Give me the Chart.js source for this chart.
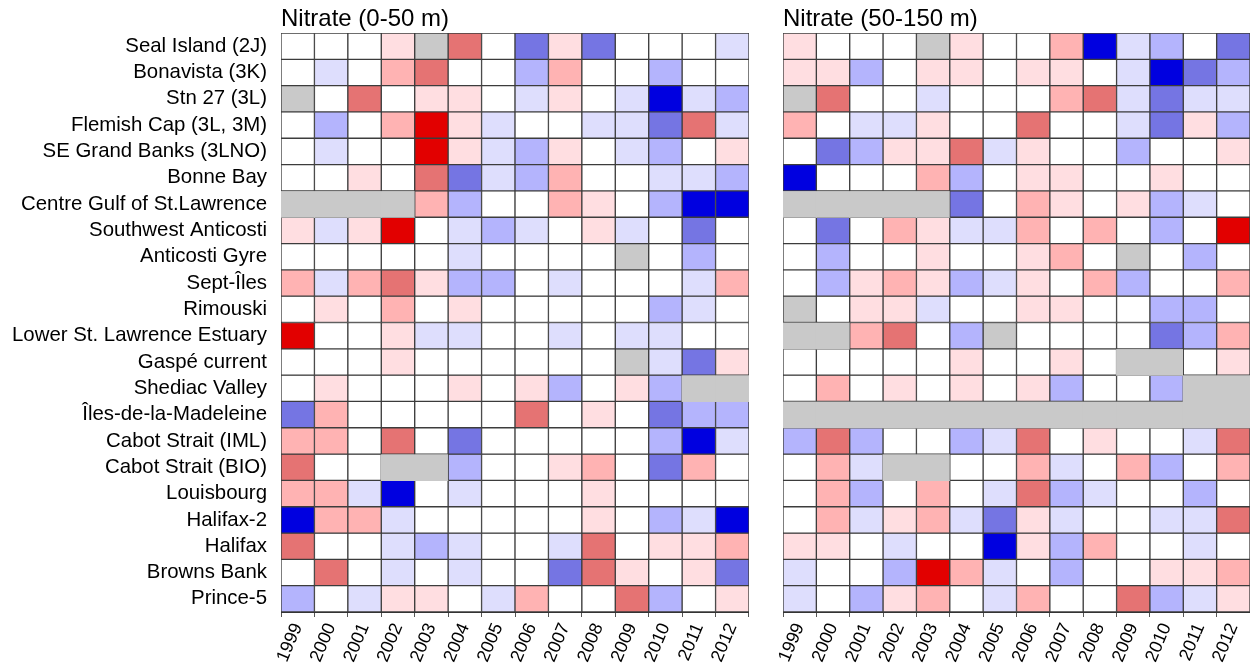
<!DOCTYPE html>
<html><head><meta charset="utf-8">
<script src="https://cdn.jsdelivr.net/npm/chart.js@4.4.1/dist/chart.umd.min.js"></script>
<style>
html,body{margin:0;padding:0;background:#fff;width:1250px;height:668px;overflow:hidden}
.box{position:absolute;top:0}
</style></head><body>
<div class="box" style="left:0;width:749px;height:668px"><canvas id="c1" width="749" height="668"></canvas></div>
<div class="box" style="left:760px;width:490px;height:668px"><canvas id="c2" width="490" height="668"></canvas></div>
<script>
const years = ['1999','2000','2001','2002','2003','2004','2005','2006','2007','2008','2009','2010','2011','2012'];
const stations = ['Seal Island (2J)','Bonavista (3K)','Stn 27 (3L)','Flemish Cap (3L, 3M)','SE Grand Banks (3LNO)','Bonne Bay','Centre Gulf of St.Lawrence','Southwest Anticosti','Anticosti Gyre','Sept-Îles','Rimouski','Lower St. Lawrence Estuary','Gaspé current','Shediac Valley','Îles-de-la-Madeleine','Cabot Strait (IML)','Cabot Strait (BIO)','Louisbourg','Halifax-2','Halifax','Browns Bank','Prince-5'];
const titles = ['Nitrate (0-50 m)','Nitrate (50-150 m)'];
const _ = null; // missing value (grey)
// anomaly class per station (rows) and year (columns): -4 .. +4
const nitrate0to50 = [
  [0,0,0,1,_,3,0,-3,1,-3,0,0,0,-1],
  [0,-1,0,2,3,0,0,-2,2,0,0,-2,0,0],
  [_,0,3,0,1,1,0,-1,1,0,-1,-4,-1,-2],
  [0,-2,0,2,4,1,-1,0,0,-1,-1,-3,3,-1],
  [0,-1,0,0,4,1,-1,-2,1,0,-1,-2,0,1],
  [0,0,1,0,3,-3,-1,-2,2,0,0,-1,-1,-2],
  [_,_,_,_,2,-2,0,0,2,1,0,-2,-4,-4],
  [1,-1,1,4,0,-1,-2,-1,0,1,-1,0,-3,0],
  [0,0,0,0,0,-1,0,0,0,0,_,0,-2,0],
  [2,-1,2,3,1,-2,-2,0,-1,0,0,0,-1,2],
  [0,1,0,2,0,1,0,0,0,0,0,-2,-1,0],
  [4,0,0,1,-1,-1,0,0,-1,0,-1,-1,0,0],
  [0,0,0,1,0,0,0,0,0,0,_,-1,-3,1],
  [0,1,0,0,0,1,0,1,-2,0,1,-2,_,_],
  [-3,2,0,0,0,0,0,3,0,1,0,-3,-2,-2],
  [2,2,0,3,0,-3,0,0,0,0,0,-2,-4,-1],
  [3,0,0,_,_,-2,0,0,1,2,0,-3,2,0],
  [2,2,-1,-4,0,-1,0,0,0,1,0,0,0,0],
  [-4,2,2,-1,0,0,0,0,0,1,0,-2,-1,-4],
  [3,0,0,-1,-2,-1,0,0,-1,3,0,1,1,2],
  [0,3,0,-1,0,-1,0,0,-3,3,1,0,1,-3],
  [-2,0,-1,1,1,0,-1,2,0,0,3,-2,0,1]
];
const nitrate50to150 = [
  [1,0,0,0,_,1,0,0,2,-4,-1,-2,0,-3],
  [1,1,-2,0,1,1,0,1,1,0,-1,-4,-3,-2],
  [_,3,0,0,-1,0,0,0,2,3,-1,-3,-1,-1],
  [2,0,-1,-1,1,0,0,3,0,0,-1,-3,1,-2],
  [0,-3,-2,1,1,3,-1,1,0,0,-2,0,0,1],
  [-4,0,0,0,2,-2,0,1,1,0,0,1,0,0],
  [_,_,_,_,_,-3,0,2,1,0,1,-2,-1,0],
  [0,-3,0,2,1,-1,-1,2,0,2,0,-2,0,4],
  [0,-2,0,0,1,0,0,1,2,0,_,0,-2,0],
  [0,-2,1,2,1,-2,-1,1,0,2,-2,0,0,2],
  [_,0,1,1,-1,0,0,1,1,0,0,-2,-2,0],
  [_,_,2,3,0,-2,_,0,0,0,0,-3,-2,2],
  [0,0,0,0,0,1,0,0,1,0,_,_,0,1],
  [0,2,0,1,0,1,0,1,-2,0,0,-2,_,_],
  [_,_,_,_,_,_,_,_,_,_,_,_,_,_],
  [-2,3,-2,0,0,-2,-1,3,0,1,0,0,-1,3],
  [0,2,-1,_,_,0,0,2,-1,0,2,-2,0,2],
  [0,2,-2,0,2,0,-1,3,-2,-1,0,0,-2,0],
  [0,2,-1,1,2,-1,-3,1,-1,0,0,-1,-1,3],
  [1,1,0,-1,0,0,-4,1,-2,2,0,0,-1,0],
  [-1,0,0,-2,4,2,-1,0,-2,0,0,1,1,2],
  [-1,0,-2,1,2,0,-1,2,0,0,3,-2,-1,1]
];
const classColors = {'-4':'#0000e0','-3':'#7575e3','-2':'#b4b4fd','-1':'#dedefd','0':'#ffffff','1':'#ffdee1','2':'#ffb3b3','3':'#e57373','4':'#e20000'};
const missingColor = '#c9c9c9';
const FONT = "'Liberation Sans', Arial, Helvetica, sans-serif";

function makeDatasets(grid){
  return stations.map((name, r) => ({
    label: name,
    data: years.map(() => 1),
    backgroundColor: grid[r].map(v => v === null ? missingColor : classColors[String(v)]),
    borderColor: '#3c3c3c',
    borderSkipped: false,
    borderWidth: (ctx) => {
      const c = ctx.dataIndex, row = grid[r];
      if (row[c] !== null) return 1;
      const inRun = (c > 0 && row[c-1] === null) || (c < row.length-1 && row[c+1] === null);
      return inRun ? 0 : 1;
    },
    inflateAmount: (ctx) => {
      const c = ctx.dataIndex, row = grid[r];
      if (row[c] !== null) return 'auto';
      const inRun = (c > 0 && row[c-1] === null) || (c < row.length-1 && row[c+1] === null);
      return inRun ? 0.5 : 'auto';
    },
    barPercentage: 1,
    categoryPercentage: 1
  }));
}

function makeChart(id, grid, title, showLabels, yWidth){
  return new Chart(document.getElementById(id), {
    type: 'bar',
    data: {labels: years, datasets: makeDatasets(grid)},
    options: {
      responsive: false,
      animation: false,
      layout: {padding: 0},
      plugins: {
        legend: {display: false},
        tooltip: {enabled: false},
        title: {display: true, text: title, align: 'start', fullSize: false,
                color: '#000', font: {family: FONT, size: 24, weight: 'normal', lineHeight: 1},
                padding: {top: 7, bottom: 2}}
      },
      scales: {
        x: {
          stacked: true,
          offset: true,
          grid: {display: true, drawOnChartArea: false, drawTicks: true, tickLength: 5, color: '#555', offset: true},
          border: {display: true, color: '#333'},
          ticks: {color: '#000', font: {family: FONT, size: 18}, minRotation: 67, maxRotation: 67, padding: 3, autoSkip: false},
          afterFit: (s) => { s.height = 56; s.paddingRight = 0; s.paddingLeft = 0; }
        },
        y: {
          stacked: true,
          reverse: true,
          min: 0, max: stations.length,
          grid: {display: false, drawTicks: false},
          border: {display: true, color: '#333'},
          afterBuildTicks: (s) => { s.ticks = stations.map((n, i) => ({value: i + 0.5})); },
          ticks: {display: showLabels, autoSkip: false, padding: 14, color: '#000',
                  font: {family: FONT, size: 20.4},
                  callback: (v) => stations[Math.floor(v)]},
          afterFit: (s) => { s.width = yWidth; }
        }
      }
    }
  });
}

makeChart('c1', nitrate0to50, titles[0], true, 281);
makeChart('c2', nitrate50to150, titles[1], false, 23);
</script>
</body></html>
